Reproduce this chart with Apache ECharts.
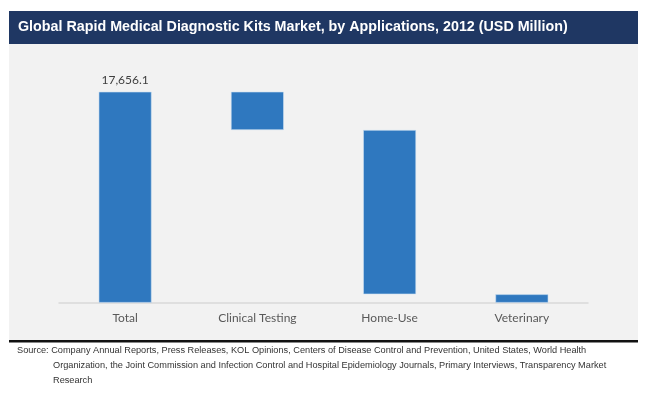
<!DOCTYPE html>
<html>
<head>
<meta charset="utf-8">
<style>
  html, body { margin: 0; padding: 0; background: #ffffff; }
  #chart { width: 650px; height: 399px; }
</style>
</head>
<body>
<div id="chart"></div>
<script src="https://cdn.jsdelivr.net/npm/echarts@6/dist/echarts.min.js"></script>
<script>
// data
var categories = ['Total', 'Clinical Testing', 'Home-Use', 'Veterinary'];
var values = [17656.1, 3204.1, 13749.0, 703.0];
var totalLabel = '17,656.1';
var titleText = 'Global Rapid Medical Diagnostic Kits Market, by Applications, 2012 (USD Million)';
var sourceLines = [
  'Source: Company Annual Reports, Press Releases, KOL Opinions, Centers of Disease Control and Prevention, United States, World Health',
  'Organization, the Joint Commission and Infection Control and Hospital Epidemiology Journals, Primary Interviews, Transparency Market',
  'Research'
];

// waterfall: invisible base under each segment
var base = [0];
var left = values[0];
for (var i = 1; i < values.length; i++) {
  left = left - values[i];
  base.push(left);
}

var chart = echarts.init(document.getElementById('chart'));
var srcFont = '9.2px "Liberation Sans", Arial, sans-serif';

var option = {
  animation: false,
  backgroundColor: '#ffffff',
  graphic: [
    { type: 'rect', shape: { x: 9, y: 11, width: 629, height: 33 }, style: { fill: '#1f3763' }, z: 0 },
    { type: 'rect', shape: { x: 9, y: 44, width: 629, height: 296 }, style: { fill: '#f2f2f2' }, z: 0 },
    { type: 'rect', shape: { x: 9, y: 340, width: 629, height: 2.5 }, style: { fill: '#111111' }, z: 0 },
    { type: 'text', left: 18, top: 20, z: 5,
      style: { text: titleText, fill: '#ffffff', font: 'bold 14.3px "Liberation Sans", Arial, sans-serif' } },
    { type: 'text', left: 17, top: 346, z: 5, style: { text: sourceLines[0], fill: '#333333', font: srcFont } },
    { type: 'text', left: 53, top: 361, z: 5, style: { text: sourceLines[1], fill: '#333333', font: srcFont } },
    { type: 'text', left: 53, top: 376, z: 5, style: { text: sourceLines[2], fill: '#333333', font: srcFont } }
  ],
  grid: { left: 59, right: 62, top: 63.7, bottom: 96.3, containLabel: false },
  xAxis: {
    type: 'category',
    data: categories,
    axisLine: { lineStyle: { color: '#d9d9d9', width: 1.5 } },
    axisTick: { show: false },
    axisLabel: { color: '#595959', fontSize: 12, margin: 9, fontFamily: 'Lato, sans-serif' }
  },
  yAxis: {
    type: 'value',
    min: 0,
    max: 20000,
    show: false,
    splitLine: { show: false }
  },
  series: [
    {
      type: 'bar',
      stack: 'wf',
      data: base,
      barWidth: '40%',
      itemStyle: { color: 'transparent' },
      silent: true
    },
    {
      type: 'bar',
      stack: 'wf',
      barWidth: '40%',
      data: values.map(function (v, i) {
        return {
          value: v,
          label: i === 0 ? {
            show: true, position: 'top', formatter: totalLabel,
            color: '#404040', fontSize: 12, distance: 6, fontFamily: 'Lato, sans-serif'
          } : { show: false }
        };
      }),
      itemStyle: { color: '#2f78bf', borderColor: '#cfe0f2', borderWidth: 0.6 }
    }
  ]
};

chart.setOption(option);
</script>
</body>
</html>
